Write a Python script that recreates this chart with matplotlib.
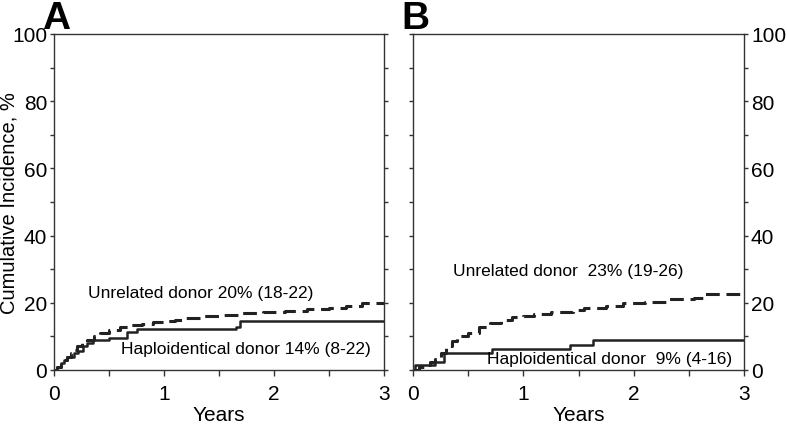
import numpy as np
import matplotlib.pyplot as plt
from matplotlib.ticker import MultipleLocator

plt.rcParams['font.family'] = ['Liberation Sans', 'DejaVu Sans']

# panel A - unrelated donor (dashed)
a_unrel_x = [0, 0.03, 0.06, 0.09, 0.12, 0.15, 0.18, 0.21, 0.25, 0.30, 0.36, 0.42, 0.50, 0.60,
             0.70, 0.80, 0.90, 1.00, 1.10, 1.20, 1.35, 1.50, 1.70, 1.90, 2.10, 2.30, 2.50, 2.65, 2.80, 3.00]
a_unrel_y = [0, 1, 2, 3, 4, 5, 6, 7, 8, 9, 10, 11, 12, 12.7,
             13.3, 13.8, 14.2, 14.7, 15.0, 15.5, 16.0, 16.5, 17.0, 17.4, 17.7, 18.2, 18.6, 19.1, 19.8, 20.0]
# panel A - haploidentical donor (solid)
a_haplo_x = [0, 0.03, 0.06, 0.09, 0.12, 0.18, 0.22, 0.26, 0.30, 0.35, 0.50, 0.66, 0.75, 1.65, 1.69, 3.0]
a_haplo_y = [0, 1, 2, 3, 4, 5, 5.8, 7, 8, 8.8, 9.4, 11.2, 12.2, 12.8, 14.7, 14.7]

# panel B - unrelated donor (dashed)
b_unrel_x = [0, 0.05, 0.10, 0.15, 0.20, 0.25, 0.30, 0.35, 0.40, 0.50, 0.60, 0.70, 0.80, 0.90, 1.00,
             1.10, 1.25, 1.45, 1.55, 1.75, 1.90, 2.10, 2.30, 2.55, 2.65, 3.00]
b_unrel_y = [0, 0.8, 1.5, 2.3, 3.3, 5, 7, 8.5, 10, 11, 12.8, 14, 15, 15.7, 16.2,
             16.8, 17.4, 17.8, 18.5, 19.0, 19.8, 20.2, 21.0, 21.4, 22.5, 22.8]
# panel B - haploidentical donor (solid)
b_haplo_x = [0, 0.02, 0.20, 0.28, 0.72, 1.42, 1.63, 3.0]
b_haplo_y = [0, 1.4, 2.4, 5.1, 6.3, 7.3, 8.9, 8.9]

fig = plt.figure(figsize=(7.87, 4.27), dpi=100)
axA = fig.add_axes([54/787, 56/427, 330/787, 336/427])
axB = fig.add_axes([413/787, 56/427, 331/787, 336/427])

panels = [
    (axA, a_unrel_x, a_unrel_y, a_haplo_x, a_haplo_y, 'A',
     'Unrelated donor 20% (18-22)', (0.31, 23.2),
     'Haploidentical donor 14% (8-22)', (0.61, 6.3)),
    (axB, b_unrel_x, b_unrel_y, b_haplo_x, b_haplo_y, 'B',
     'Unrelated donor  23% (19-26)', (0.36, 29.5),
     'Haploidentical donor  9% (4-16)', (0.67, 3.3)),
]

for ax, ux, uy, hx, hy, lab, ut, upos, ht, hpos in panels:
    ax.step(ux, uy, where='post', color='#222222', lw=2.2, linestyle=(0, (4.5, 2.2)))
    ax.step(hx, hy, where='post', color='#222222', lw=1.8)
    ax.set_xlim(0, 3)
    ax.set_ylim(0, 100)
    ax.xaxis.set_major_locator(MultipleLocator(1))
    ax.xaxis.set_minor_locator(MultipleLocator(0.5))
    ax.yaxis.set_major_locator(MultipleLocator(20))
    ax.yaxis.set_minor_locator(MultipleLocator(10))
    ax.tick_params(which='both', direction='out', color='#333333', width=1, labelsize=15)
    ax.tick_params(axis='y', which='both', length=3, left=True, right=True, pad=2)
    ax.tick_params(axis='x', which='both', length=4, pad=6)
    for s in ax.spines.values():
        s.set_color('#333333')
        s.set_linewidth(1)
    ax.set_xlabel('Years', fontsize=15)
    ax.xaxis.set_label_coords(0.5, -0.105)
    ax.text(upos[0], upos[1], ut, fontsize=12.5, va='center', ha='left')
    ax.text(hpos[0], hpos[1], ht, fontsize=12.5, va='center', ha='left')
    ax.text(-0.035, 0.995, lab, transform=ax.transAxes, fontsize=28, fontweight='bold',
            va='bottom', ha='left')

axA.set_ylabel('Cumulative Incidence, %', fontsize=14.5)
axA.yaxis.set_label_coords(-0.108, 0.5)
axA.tick_params(axis='y', labelleft=True, labelright=False)
axB.tick_params(axis='y', labelleft=False, labelright=True)

fig.savefig('out.png', dpi=100)
